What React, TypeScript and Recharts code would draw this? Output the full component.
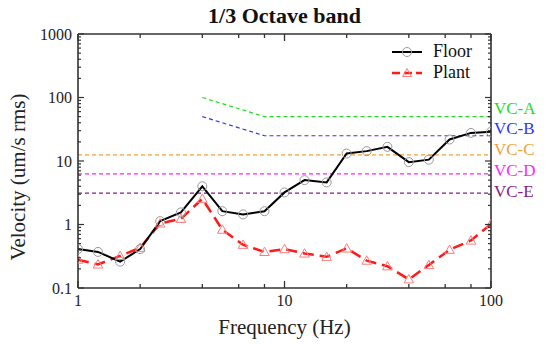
import React from "react";
import { LineChart, Line, XAxis, YAxis } from "recharts";

const frequencies = [1, 1.25, 1.6, 2, 2.5, 3.15, 4, 5, 6.3, 8, 10, 12.5, 16, 20, 25, 31.5, 40, 50, 63, 80, 100];
const floorValues = [0.41, 0.37, 0.26, 0.41, 1.13, 1.55, 4.0, 1.62, 1.44, 1.62, 3.2, 5.0, 4.6, 13.1, 14.3, 16.7, 9.6, 10.5, 21.8, 27.7, 28.8];
const plantValues = [0.28, 0.235, 0.32, 0.43, 1.04, 1.23, 2.54, 0.83, 0.48, 0.37, 0.41, 0.35, 0.31, 0.42, 0.27, 0.22, 0.137, 0.23, 0.4, 0.56, 1.02];

const vcAFreq = [4, 8, 100];
const vcAVal = [100, 50, 50];
const vcBFreq = [4, 8, 100];
const vcBVal = [50, 25, 25];
const vcFlatFreq = [1, 100];
const vcCVal = 12.5;
const vcDVal = 6.25;
const vcEVal = 3.125;

const vcLabels = ["VC-A", "VC-B", "VC-C", "VC-D", "VC-E"];
const vcColors = ["#22dd22", "#3333ff", "#f2a23a", "#ff22ff", "#8a1a8a"];

const xTicks = [1, 2, 4, 6, 8, 10, 20, 40, 60, 80, 100];
const xMajor = [1, 10, 100];
const yMajor = [0.1, 1, 10, 100, 1000];
const yMinorMult = [2, 3, 4, 5, 6, 7, 8, 9];
const yTicks = [
  ...yMajor,
  ...yMajor.slice(0, 4).flatMap((d) => yMinorMult.map((m) => +(d * m).toPrecision(3))),
].sort((a, b) => a - b);

const floorData = frequencies.map((f, i) => ({ f, v: floorValues[i] }));
const plantData = frequencies.map((f, i) => ({ f, v: plantValues[i] }));
const vcAData = vcAFreq.map((f, i) => ({ f, v: vcAVal[i] }));
const vcBData = vcBFreq.map((f, i) => ({ f, v: vcBVal[i] }));
const vcCData = vcFlatFreq.map((f) => ({ f, v: vcCVal }));
const vcDData = vcFlatFreq.map((f) => ({ f, v: vcDVal }));
const vcEData = vcFlatFreq.map((f) => ({ f, v: vcEVal }));

const FONT = "'Liberation Serif', 'DejaVu Serif', serif";
const AX = "#333";

const BottomTick = (props: any) => {
  const { x, y, payload } = props;
  const major = xMajor.includes(payload.value);
  return (
    <g>
      <line x1={x} x2={x} y1={y} y2={y - (major ? 7 : 4)} stroke={AX} strokeWidth={1.3} />
      {major && (
        <text x={x} y={y + 18} textAnchor="middle" fontSize={16} fontFamily={FONT} fill="#222">
          {payload.value}
        </text>
      )}
    </g>
  );
};

const TopTick = (props: any) => {
  const { x, y, payload } = props;
  const major = xMajor.includes(payload.value);
  return <line x1={x} x2={x} y1={y} y2={y + (major ? 7 : 4)} stroke={AX} strokeWidth={1.3} />;
};

const LeftTick = (props: any) => {
  const { x, y, payload } = props;
  const major = yMajor.includes(payload.value);
  return (
    <g>
      <line x1={x} x2={x + (major ? 6 : 3)} y1={y} y2={y} stroke={AX} strokeWidth={1.2} />
      {major && (
        <text x={x - 6} y={y} dy="0.35em" textAnchor="end" fontSize={16} fontFamily={FONT} fill="#222">
          {payload.value}
        </text>
      )}
    </g>
  );
};

const RightTick = (props: any) => {
  const { x, y, payload } = props;
  const major = yMajor.includes(payload.value);
  return <line x1={x} x2={x - (major ? 6 : 3)} y1={y} y2={y} stroke={AX} strokeWidth={1.2} />;
};

const TriangleDot = (props: any) => {
  const { cx, cy, index } = props;
  if (cx == null || cy == null) return <g key={index} />;
  const s = 4.8;
  return (
    <path
      key={index}
      d={`M${cx},${cy - s} L${cx + s},${cy + s * 0.75} L${cx - s},${cy + s * 0.75} Z`}
      fill="none"
      stroke="#ff7a7a"
      strokeWidth={1}
    />
  );
};

export default function App() {
  const vcLabelY = [109, 129, 150, 171, 192];
  return (
    <div style={{ position: "absolute", left: 0, top: 0, width: 550, height: 344, background: "#fff", fontFamily: FONT }}>
      <LineChart
        width={550}
        height={344}
        margin={{ top: 33, right: 58, bottom: 55, left: 77 }}
      >
        <XAxis
          dataKey="f"
          type="number"
          scale="log"
          domain={[1, 100]}
          allowDataOverflow
          ticks={xTicks}
          interval={0}
          height={1}
          tickSize={0}
          tickMargin={0}
          tickLine={false}
          tick={<BottomTick />}
          axisLine={{ stroke: AX, strokeWidth: 1.6 }}
        />
        <XAxis
          xAxisId="top"
          orientation="top"
          dataKey="f"
          type="number"
          scale="log"
          domain={[1, 100]}
          allowDataOverflow
          ticks={xTicks}
          interval={0}
          height={1}
          tickSize={0}
          tickMargin={0}
          tickLine={false}
          tick={<TopTick />}
          axisLine={{ stroke: AX, strokeWidth: 1.6 }}
        />
        <YAxis
          type="number"
          scale="log"
          domain={[0.1, 1000]}
          allowDataOverflow
          ticks={yTicks}
          interval={0}
          width={1}
          tickSize={0}
          tickMargin={0}
          tickLine={false}
          tick={<LeftTick />}
          axisLine={{ stroke: AX, strokeWidth: 1.6 }}
        />
        <YAxis
          yAxisId="right"
          orientation="right"
          type="number"
          scale="log"
          domain={[0.1, 1000]}
          allowDataOverflow
          ticks={yTicks}
          interval={0}
          width={1}
          tickSize={0}
          tickMargin={0}
          tickLine={false}
          tick={<RightTick />}
          axisLine={{ stroke: AX, strokeWidth: 1.6 }}
        />
        <Line data={vcAData} dataKey="v" stroke={vcColors[0]} strokeWidth={1.2} strokeDasharray="4 3" dot={false} isAnimationActive={false} />
        <Line data={vcBData} dataKey="v" stroke={vcColors[1]} strokeWidth={1.2} strokeDasharray="4 3" dot={false} isAnimationActive={false} />
        <Line data={vcCData} dataKey="v" stroke={vcColors[2]} strokeWidth={1.2} strokeDasharray="4 3" dot={false} isAnimationActive={false} />
        <Line data={vcDData} dataKey="v" stroke={vcColors[3]} strokeWidth={1.2} strokeDasharray="4 3" dot={false} isAnimationActive={false} />
        <Line data={vcEData} dataKey="v" stroke={vcColors[4]} strokeWidth={1.2} strokeDasharray="4 3" dot={false} isAnimationActive={false} />
        <Line
          data={plantData}
          dataKey="v"
          stroke="#ff1a1a"
          strokeWidth={2.5}
          strokeDasharray="11 6"
          dot={<TriangleDot />}
          isAnimationActive={false}
        />
        <Line
          data={floorData}
          dataKey="v"
          stroke="#000"
          strokeWidth={2}
          dot={{ r: 4.5, fill: "none", stroke: "#999", strokeWidth: 1 }}
          isAnimationActive={false}
        />
      </LineChart>

      <div style={{ position: "absolute", left: 0, width: 569, top: 3, textAlign: "center", fontSize: 22, fontWeight: "bold", color: "#111", lineHeight: "26px" }}>
        1/3 Octave band
      </div>
      <div style={{ position: "absolute", left: 0, width: 569, top: 315, textAlign: "center", fontSize: 21, color: "#222", lineHeight: "24px" }}>
        Frequency (Hz)
      </div>
      <div
        style={{
          position: "absolute",
          left: 18,
          top: 177,
          transform: "translate(-50%, -50%) rotate(-90deg)",
          whiteSpace: "nowrap",
          fontSize: 21,
          color: "#222",
          lineHeight: "24px",
        }}
      >
        Velocity (um/s rms)
      </div>

      {vcLabels.map((t, i) => (
        <div key={t} style={{ position: "absolute", left: 494, top: vcLabelY[i] - 10, fontSize: 17, lineHeight: "20px", color: vcColors[i] }}>
          {t}
        </div>
      ))}

      <div style={{ position: "absolute", left: 390, top: 41, width: 100 }}>
        <div style={{ display: "flex", alignItems: "center", height: 21 }}>
          <svg width={36} height={14}>
            <line x1={2} x2={32} y1={7} y2={7} stroke="#000" strokeWidth={2} />
            <circle cx={17} cy={7} r={4.5} fill="none" stroke="#999" strokeWidth={1} />
          </svg>
          <span style={{ fontSize: 18, marginLeft: 7, color: "#111" }}>Floor</span>
        </div>
        <div style={{ display: "flex", alignItems: "center", height: 21 }}>
          <svg width={36} height={14}>
            <line x1={2} x2={32} y1={7} y2={7} stroke="#ff1a1a" strokeWidth={2.5} strokeDasharray="8 4" />
            <path d="M17,2.5 L21.5,10.5 L12.5,10.5 Z" fill="none" stroke="#ff7a7a" strokeWidth={1} />
          </svg>
          <span style={{ fontSize: 18, marginLeft: 7, color: "#111" }}>Plant</span>
        </div>
      </div>
    </div>
  );
}
